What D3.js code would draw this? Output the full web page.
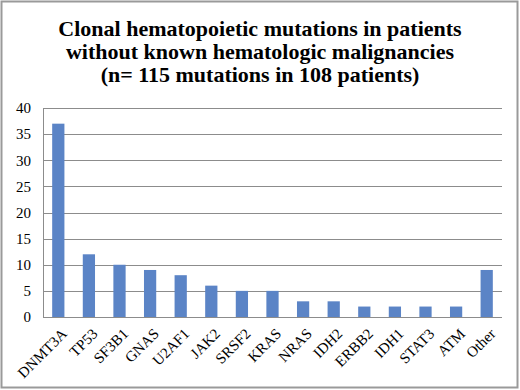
<!DOCTYPE html>
<meta charset="utf-8">
<head>
    <style>
        body { margin: 0; background: #fff; }
        text { font-family: 'Liberation Serif', 'DejaVu Serif', serif; fill: #000; }
        .title { font-weight: bold; font-size: 22px; }
        .axis text { font-size: 15px; }
        .grid line { stroke: #8c8c8c; }
    </style>
</head>
<body>
    <svg width="520" height="390"></svg>
    <script src="https://cdnjs.cloudflare.com/ajax/libs/d3/7.8.5/d3.min.js"></script>
    <script>
        var genes = ["DNMT3A", "TP53", "SF3B1", "GNAS", "U2AF1", "JAK2", "SRSF2", "KRAS",
            "NRAS", "IDH2", "ERBB2", "IDH1", "STAT3", "ATM", "Other"];
        var counts = [37, 12, 10, 9, 8, 6, 5, 5, 3, 3, 2, 2, 2, 2, 9];
        var yTicks = [0, 5, 10, 15, 20, 25, 30, 35, 40];
        var titleLines = ["Clonal hematopoietic mutations in patients",
            "without known hematologic malignancies",
            "(n= 115 mutations in 108 patients)"];

        var svg = d3.select("svg");

        // outer frame
        svg.append("rect")
            .attr("x", 1.5).attr("y", 1.5)
            .attr("width", 516).attr("height", 386)
            .attr("fill", "none")
            .attr("stroke", "#9a9a9a")
            .attr("stroke-width", 2);

        svg.append("g")
            .selectAll("text")
            .data(titleLines)
            .enter()
            .append("text")
            .attr("class", "title")
            .attr("x", 260)
            .attr("y", function (d, i) { return 36 + i * 23; })
            .attr("text-anchor", "middle")
            .text(function (d) { return d; });

        var plotL = 43, plotR = 502, plotT = 108, plotB = 317;

        var x = d3.scaleBand()
            .domain(genes)
            .range([plotL, plotR])
            .paddingInner(0.6)
            .paddingOuter(0.3);

        var y = d3.scaleLinear()
            .domain([0, 40])
            .range([plotB, plotT]);

        svg.append("g")
            .attr("class", "grid")
            .selectAll("line")
            .data(yTicks)
            .enter()
            .append("line")
            .attr("x1", plotL).attr("x2", plotR)
            .attr("y1", function (d) { return Math.round(y(d)) + 0.5; })
            .attr("y2", function (d) { return Math.round(y(d)) + 0.5; });

        svg.append("line")
            .attr("x1", plotL + 0.5).attr("x2", plotL + 0.5)
            .attr("y1", plotT).attr("y2", plotB)
            .attr("stroke", "#8c8c8c");

        svg.append("g")
            .selectAll("rect")
            .data(counts)
            .enter()
            .append("rect")
            .attr("x", function (d, i) { return x(genes[i]); })
            .attr("y", function (d) { return y(d); })
            .attr("width", x.bandwidth())
            .attr("height", function (d) { return y(0) - y(d); })
            .attr("fill", "#5b84c6");

        var yAxis = svg.append("g")
            .attr("class", "axis")
            .attr("transform", "translate(" + plotL + ",0)")
            .call(d3.axisLeft(y).tickValues(yTicks).tickSize(0).tickPadding(12));
        yAxis.select(".domain").remove();

        var xAxis = svg.append("g")
            .attr("class", "axis")
            .attr("transform", "translate(0," + plotB + ")")
            .call(d3.axisBottom(x).tickSize(0));
        xAxis.select(".domain").remove();
        xAxis.selectAll("text")
            .attr("text-anchor", "end")
            .attr("x", 0)
            .attr("y", 0)
            .attr("dy", "0.35em")
            .attr("transform", "translate(6,14) rotate(-45)");
    </script>
</body>
